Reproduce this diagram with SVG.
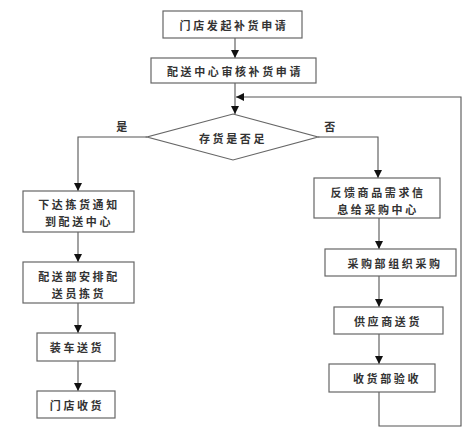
<svg xmlns="http://www.w3.org/2000/svg" width="474" height="442" viewBox="0 0 474 442">
<style>
.box{fill:#fff;stroke:#666;stroke-width:1.2}
.ln{fill:none;stroke:#555;stroke-width:1.1}
text{font-family:"Noto Sans CJK SC","Noto Sans CJK JP",sans-serif;font-size:11px;font-weight:bold;fill:#333;letter-spacing:2.6px;text-anchor:middle;dominant-baseline:central}
</style>
<defs>
<marker id="ah" viewBox="0 0 10 10" refX="10" refY="5" markerWidth="8" markerHeight="8" markerUnits="userSpaceOnUse" orient="auto">
<path d="M0,0 L10,5 L0,10 Z" fill="#111"/>
</marker>
</defs>
<rect width="474" height="442" fill="#fff"/>
<g id="connectors">
<line class="ln" x1="235" y1="38" x2="235" y2="58" marker-end="url(#ah)"/>
<line class="ln" x1="235" y1="83" x2="235" y2="114" marker-end="url(#ah)"/>
<polyline class="ln" points="147,137 78,137 78,191" marker-end="url(#ah)"/>
<polyline class="ln" points="318,137 378,137 378,178" marker-end="url(#ah)"/>
<line class="ln" x1="78" y1="232" x2="78" y2="262" marker-end="url(#ah)"/>
<line class="ln" x1="78" y1="303" x2="78" y2="333" marker-end="url(#ah)"/>
<line class="ln" x1="78" y1="361" x2="78" y2="391" marker-end="url(#ah)"/>
<line class="ln" x1="379" y1="218" x2="379" y2="249" marker-end="url(#ah)"/>
<line class="ln" x1="379" y1="276" x2="379" y2="307" marker-end="url(#ah)"/>
<line class="ln" x1="379" y1="334" x2="379" y2="364" marker-end="url(#ah)"/>
<polyline class="ln" points="379,392 379,426 461,426 461,97 236,97" marker-end="url(#ah)"/>
<text x="123" y="126">是</text>
<text x="331" y="126">否</text>
</g>
<g id="n1"><rect class="box" x="163" y="11" width="139" height="27"/><text x="234" y="24.5">门店发起补货申请</text></g>
<g id="n2"><rect class="box" x="151" y="58" width="165" height="25"/><text x="235" y="70.5">配送中心审核补货申请</text></g>
<g id="n3"><polygon class="box" points="233,114 318,137 233,160 147,137"/><text x="233" y="138">存货是否足</text></g>
<g id="n4"><rect class="box" x="23" y="191" width="111" height="41"/><text x="79" y="204">下达拣货通知</text><text x="79" y="221">到配送中心</text></g>
<g id="n5"><rect class="box" x="23" y="262" width="111" height="41"/><text x="79" y="276">配送部安排配</text><text x="79" y="293">送员拣货</text></g>
<g id="n6"><rect class="box" x="37" y="333" width="78" height="28"/><text x="77" y="347">装车送货</text></g>
<g id="n7"><rect class="box" x="37" y="391" width="78" height="27"/><text x="77" y="404.5">门店收货</text></g>
<g id="n8"><rect class="box" x="314" y="178" width="126" height="40"/><text x="378" y="192">反馈商品需求信</text><text x="378" y="209">息给采购中心</text></g>
<g id="n9"><rect class="box" x="325" y="249" width="131" height="27"/><text x="395" y="262.5">采购部组织采购</text></g>
<g id="n10"><rect class="box" x="334" y="307" width="109" height="27"/><text x="388" y="320.5">供应商送货</text></g>
<g id="n11"><rect class="box" x="329" y="364" width="106" height="28"/><text x="387" y="378">收货部验收</text></g>
</svg>
